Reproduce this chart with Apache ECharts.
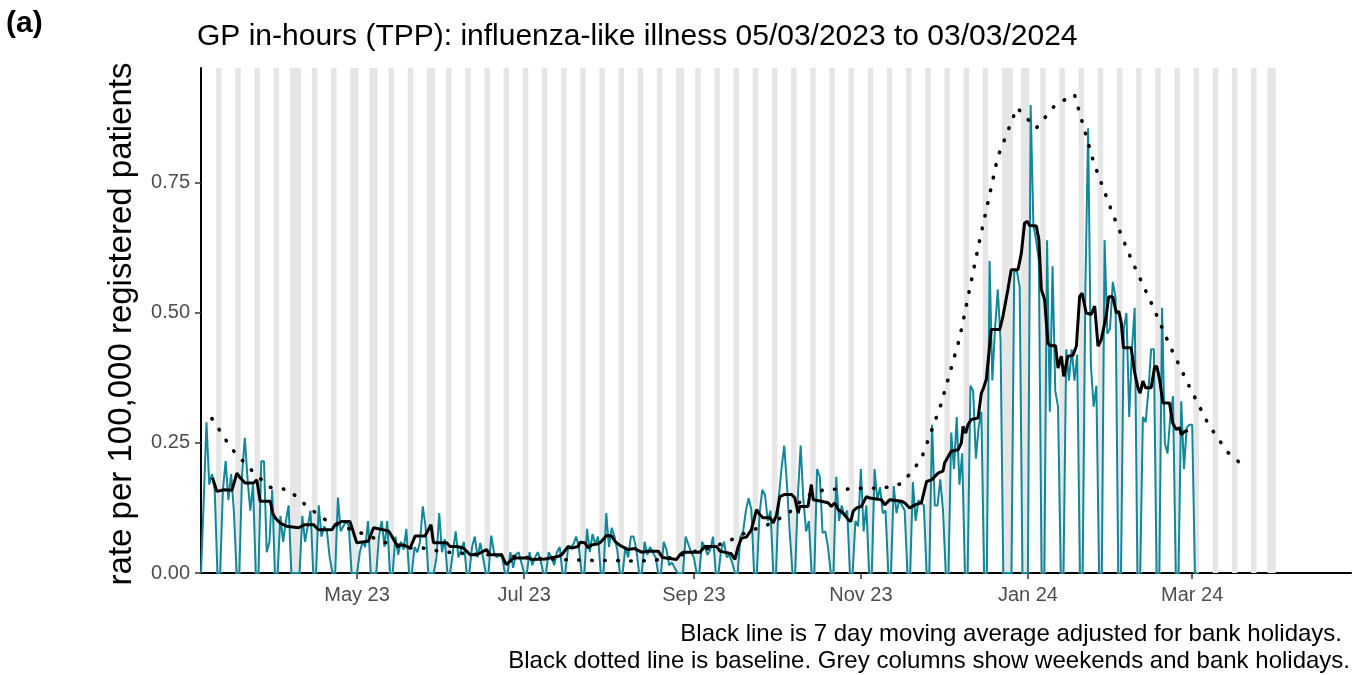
<!DOCTYPE html>
<html>
<head>
<meta charset="utf-8">
<script src="https://cdn.jsdelivr.net/npm/echarts@6/dist/echarts.min.js"></script>
<style>
  html, body { margin: 0; padding: 0; background: #fff; }
  #chart { width: 1363px; height: 675px; }
</style>
</head>
<body>
<div id="chart"></div>
<script>
// first day of the daily series (Sunday)
var startDate = '2023-03-05'

// daily rate, one row per week: Sun, Mon, Tue, Wed, Thu, Fri, Sat
var dailyRate = [
  0, 0.14, 0.29, 0.17, 0.19, 0.16, 0,
  0, 0.16, 0.215, 0.14, 0.19, 0.12, 0,
  0, 0.19, 0.26, 0.18, 0.12, 0.17, 0,
  0, 0.215, 0.215, 0.04, 0.06, 0.16, 0,
  0, 0.11, 0.06, 0.10, 0.13, 0, 0,
  0, 0, 0.11, 0.06, 0.09, 0.12, 0,
  0, 0.13, 0.07, 0.09, 0.08, 0.03, 0,
  0, 0.145, 0.08, 0.09, 0.10, 0.09, 0,
  0, 0, 0.04, 0.06, 0.05, 0.10, 0,
  0, 0, 0.07, 0.10, 0.05, 0.10, 0,
  0, 0.07, 0.035, 0.06, 0.045, 0.085, 0,
  0, 0.05, 0.04, 0.06, 0.128, 0.09, 0,
  0, 0, 0.03, 0.115, 0.04, 0.065, 0,
  0, 0.04, 0.08, 0.03, 0.045, 0.06, 0,
  0, 0.05, 0.07, 0.03, 0.058, 0.03, 0,
  0, 0.072, 0.04, 0.03, 0.035, 0.03, 0,
  0, 0.04, 0.01, 0.035, 0.04, 0.02, 0,
  0, 0.04, 0.015, 0.03, 0.04, 0.025, 0,
  0, 0.04, 0.03, 0.015, 0.04, 0.05, 0,
  0, 0.045, 0.05, 0.055, 0.07, 0.05, 0,
  0, 0.085, 0.04, 0.075, 0.055, 0.07, 0,
  0, 0.115, 0.05, 0.087, 0.07, 0.045, 0,
  0, 0.05, 0.03, 0.07, 0.07, 0.045, 0,
  0, 0.06, 0.035, 0.05, 0.04, 0.03, 0,
  0, 0.06, 0.045, 0.015, 0.02, 0.01, 0,
  0, 0, 0.07, 0.055, 0.04, 0.03, 0,
  0, 0.06, 0.05, 0.035, 0.045, 0.07, 0,
  0, 0.045, 0.06, 0.03, 0.035, 0.02, 0,
  0, 0.07, 0.08, 0.12, 0.144, 0.122, 0,
  0, 0.115, 0.16, 0.15, 0.10, 0.12, 0,
  0, 0.145, 0.20, 0.245, 0.17, 0.08, 0,
  0, 0.15, 0.245, 0.14, 0.08, 0.10, 0,
  0, 0.20, 0.185, 0.077, 0.08, 0.05, 0,
  0, 0.185, 0.10, 0.13, 0.11, 0.12, 0,
  0, 0.10, 0.09, 0.20, 0.08, 0.13, 0,
  0, 0.20, 0.14, 0.165, 0.115, 0.12, 0,
  0, 0.167, 0.115, 0.14, 0.13, 0.12, 0,
  0, 0.175, 0.10, 0.14, 0.135, 0.13, 0,
  0, 0.285, 0.13, 0.13, 0.18, 0.12, 0,
  0, 0.27, 0.20, 0.30, 0.17, 0.23, 0,
  0, 0.36, 0.35, 0.22, 0.28, 0.31, 0,
  0, 0.60, 0.37, 0.47, 0.545, 0.45, 0,
  0, 0, 0, 0.58, 0.58, 0.55, 0,
  0, 0, 0.90, 0.67, 0.64, 0.60, 0,
  0, 0.64, 0.31, 0.59, 0.35, 0.32, 0,
  0, 0.43, 0.37, 0.43, 0.37, 0.42, 0,
  0, 0.55, 0.855, 0.40, 0.32, 0.36, 0,
  0, 0.64, 0.46, 0.47, 0.56, 0.53, 0,
  0, 0.47, 0.50, 0.30, 0.43, 0.51, 0,
  0, 0.30, 0.29, 0.35, 0.43, 0.43, 0,
  0, 0.51, 0.25, 0.23, 0.30, 0.34, 0,
  0, 0.33, 0.20, 0.28, 0.285, 0.285, 0,
  0
]

// 7 day moving average (day offset from startDate, rate)
var maDays = [4.2, 5.8, 8.5, 11.3, 13.1, 14.3, 16.1, 19.2, 20.4, 21.6, 25.3, 26.2, 27.1, 28.9, 31.3, 35.6, 38, 41.1, 42.9, 47.8,
  49, 51.4, 54.4, 56.9, 61.1, 63, 68.4, 69, 71.5, 73.9, 76.4, 78.2, 81.8, 84, 84.9, 89.7, 91, 93.4, 95.8, 98.3,
  100.7, 104.3, 105.6, 109.8, 111.5, 113.5, 114.7, 119.5, 120.8, 125.6, 130.5, 131.7, 134.1, 135.4, 137.8, 138.4, 140.2, 141.4, 142.6, 145.1,
  146.3, 148.1, 150, 151.2, 153, 156, 158.4, 160.9, 163.3, 167, 168.5, 173.7, 174.9, 176.1, 182.2, 184, 188.3, 189.5, 193.7, 195,
  196.2, 197.4, 199.2, 201, 202.9, 204.1, 205.3, 207.8, 209, 210.2, 211.4, 213.2, 215.7, 216.9, 218.1, 218.7, 221.7, 222.9, 223.6, 226.6,
  229, 230.2, 231.5, 232.7, 234.5, 236.3, 237.3, 238.2, 239.4, 241.2, 243, 244.2, 248.5, 249.7, 251.6, 255.8, 257, 258.8, 260.7, 263.1,
  265, 266.8, 269.2, 271, 271.6, 274, 276.5, 277.7, 278.3, 279.3, 280.1, 281.3, 283.8, 285, 285.6, 286.8, 288.6, 291.7, 292.9, 294.7,
  295.9, 298.4, 299.6, 300.8, 301.8, 302.6, 305.1, 306, 306.9, 308.1, 309.3, 310.2, 312.1, 313, 314.2, 315.1, 316.6, 318.4, 319.7, 320.9,
  321.8, 323.3, 325.1, 326.4, 327.6, 328.8, 330.6, 331.5, 333, 334.3, 335.2, 336.1, 336.9, 339.7, 340.9, 342.2, 343, 344, 345, 347,
  348.3, 349.1, 350.1, 351.3, 353.7, 354.9, 356.2, 357.4, 358, 359.2, 360.4]
var maRate = [0.183, 0.157, 0.16, 0.159, 0.192, 0.183, 0.173, 0.173, 0.179, 0.138, 0.138, 0.115, 0.106, 0.096, 0.09, 0.087, 0.093, 0.093, 0.083, 0.083,
  0.093, 0.099, 0.099, 0.058, 0.061, 0.087, 0.081, 0.077, 0.054, 0.054, 0.048, 0.071, 0.071, 0.093, 0.058, 0.058, 0.051, 0.051, 0.048, 0.035,
  0.035, 0.045, 0.035, 0.035, 0.016, 0.026, 0.029, 0.029, 0.026, 0.027, 0.032, 0.035, 0.051, 0.048, 0.051, 0.059, 0.058, 0.048, 0.054, 0.056,
  0.061, 0.072, 0.071, 0.061, 0.053, 0.045, 0.047, 0.04, 0.042, 0.042, 0.03, 0.026, 0.035, 0.04, 0.04, 0.051, 0.051, 0.042, 0.037, 0.026,
  0.051, 0.067, 0.069, 0.083, 0.122, 0.112, 0.106, 0.106, 0.096, 0.112, 0.147, 0.151, 0.151, 0.144, 0.115, 0.128, 0.128, 0.17, 0.141, 0.138,
  0.135, 0.128, 0.135, 0.122, 0.115, 0.103, 0.099, 0.119, 0.125, 0.128, 0.147, 0.144, 0.141, 0.131, 0.141, 0.138, 0.135, 0.125, 0.131, 0.135,
  0.176, 0.179, 0.192, 0.196, 0.212, 0.234, 0.237, 0.25, 0.282, 0.269, 0.285, 0.295, 0.298, 0.346, 0.353, 0.372, 0.468, 0.468, 0.494, 0.545,
  0.583, 0.583, 0.615, 0.673, 0.676, 0.668, 0.667, 0.641, 0.545, 0.526, 0.442, 0.437, 0.437, 0.394, 0.417, 0.378, 0.417, 0.418, 0.436, 0.532,
  0.538, 0.5, 0.497, 0.513, 0.436, 0.449, 0.494, 0.531, 0.531, 0.5, 0.503, 0.481, 0.433, 0.433, 0.388, 0.356, 0.346, 0.369, 0.356, 0.356,
  0.397, 0.397, 0.372, 0.327, 0.327, 0.288, 0.276, 0.279, 0.266, 0.272, 0.274]

// weekly baseline, first point on baselineStart then every 7 days
var baselineStart = '2023-03-09'
var baselineRate = [0.297, 0.24, 0.20, 0.165, 0.16, 0.127, 0.10, 0.087, 0.074, 0.059,
  0.048, 0.048, 0.041, 0.038, 0.035, 0.035, 0.031, 0.028, 0.026, 0.025,
  0.024, 0.024, 0.023, 0.024, 0.03, 0.04, 0.048, 0.062, 0.08, 0.093,
  0.112, 0.148, 0.161, 0.161, 0.163, 0.163, 0.172, 0.218, 0.32, 0.45,
  0.63, 0.80, 0.895, 0.855, 0.90, 0.92, 0.79, 0.69, 0.60, 0.52,
  0.435, 0.358, 0.285, 0.232, 0.20]

var bankHolidays = ['2023-04-07', '2023-04-10', '2023-05-01', '2023-05-08', '2023-05-29',
  '2023-08-28', '2023-12-25', '2023-12-26', '2024-01-01', '2024-03-29']
var greyEnd = '2024-03-31'
var axisEnd = '2024-04-28'

var tickDates = ['2023-05-01', '2023-07-01', '2023-09-01', '2023-11-01', '2024-01-01', '2024-03-01']
var tickLabels = ['May 23', 'Jul 23', 'Sep 23', 'Nov 23', 'Jan 24', 'Mar 24']
var yTicks = [0, 0.25, 0.5, 0.75]

function dayIndex (s) {
  var a = s.split('-').map(Number)
  var b = startDate.split('-').map(Number)
  return Math.round((Date.UTC(a[0], a[1] - 1, a[2]) - Date.UTC(b[0], b[1] - 1, b[2])) / 86400000)
}

var tickDays = tickDates.map(dayIndex)
var holidayDays = bankHolidays.map(dayIndex)

// grey columns: weekends and bank holidays, merged into runs
var greyRuns = []
var lastDay = dayIndex(greyEnd)
for (var d = 1; d <= lastDay; d++) {
  var dow = d % 7 // 0 = Sunday, 6 = Saturday
  if (dow === 0 || dow === 6 || holidayDays.indexOf(d) >= 0) {
    var run = greyRuns[greyRuns.length - 1]
    if (run && run[1] === d - 1) run[1] = d
    else greyRuns.push([d, d])
  }
}
var greyAreas = greyRuns.map(function (r) {
  return [{ xAxis: r[0] - 0.5 }, { xAxis: r[1] + 0.5 }]
})

var dailyData = dailyRate.map(function (v, i) { return [i, v] })
var maData = maDays.map(function (d, i) { return [d, maRate[i]] })
var b0 = dayIndex(baselineStart)
var baselineData = baselineRate.map(function (v, k) { return [b0 + 7 * k, v] })

var font = '"Liberation Sans", Arial, Helvetica, sans-serif'

var option = {
  animation: false,
  grid: { left: 201, right: 12, top: 68, bottom: 102 },
  xAxis: {
    type: 'value',
    min: 0,
    max: dayIndex(axisEnd),
    splitLine: { show: false },
    axisLine: { show: true, lineStyle: { color: '#000', width: 2 } },
    axisTick: { show: true, customValues: tickDays, length: 6, lineStyle: { color: '#333', width: 1.5 } },
    axisLabel: {
      customValues: tickDays,
      formatter: function (v) {
        var i = tickDays.indexOf(Math.round(v))
        return i >= 0 ? tickLabels[i] : ''
      },
      color: '#4d4d4d',
      fontSize: 20,
      fontFamily: font,
      margin: 12
    }
  },
  yAxis: {
    type: 'value',
    min: 0,
    max: 0.971,
    splitLine: { show: false },
    axisLine: { show: true, lineStyle: { color: '#000', width: 2 } },
    axisTick: { show: true, customValues: yTicks, length: 6, lineStyle: { color: '#333', width: 1.5 } },
    axisLabel: {
      customValues: yTicks,
      formatter: function (v) { return v.toFixed(2) },
      color: '#4d4d4d',
      fontSize: 20,
      fontFamily: font,
      margin: 11
    }
  },
  series: [
    {
      // carrier for the grey weekend / holiday columns
      type: 'line',
      data: [],
      silent: true,
      markArea: {
        silent: true,
        itemStyle: { color: '#e6e6e6' },
        data: greyAreas
      }
    },
    {
      name: 'daily',
      type: 'line',
      data: dailyData,
      showSymbol: false,
      lineStyle: { color: '#11879a', width: 2 },
      z: 3
    },
    {
      name: 'baseline',
      type: 'line',
      data: baselineData,
      showSymbol: false,
      lineStyle: { color: '#000', width: 3.6, type: [0.5, 12.5], cap: 'round' },
      z: 4
    },
    {
      name: 'moving average',
      type: 'line',
      data: maData,
      showSymbol: false,
      lineStyle: { color: '#000', width: 3 },
      z: 5
    }
  ],
  graphic: [
    { type: 'text', x: 6, y: 24, style: { text: '(a)', font: 'bold 30px ' + font, fill: '#000', textVerticalAlign: 'middle' } },
    { type: 'text', x: 197, y: 37, style: { text: 'GP in-hours (TPP): influenza-like illness 05/03/2023 to 03/03/2024', font: '30px ' + font, fill: '#000', textVerticalAlign: 'middle' } },
    { type: 'text', x: 122, y: 324, rotation: Math.PI / 2, style: { text: 'rate per 100,000 registered patients', font: '33px ' + font, fill: '#000', textAlign: 'center', textVerticalAlign: 'middle' } },
    { type: 'text', x: 1342, y: 634, style: { text: 'Black line is 7 day moving average adjusted for bank holidays.', font: '24px ' + font, fill: '#000', textAlign: 'right', textVerticalAlign: 'middle' } },
    { type: 'text', x: 1350, y: 661, style: { text: 'Black dotted line is baseline. Grey columns show weekends and bank holidays.', font: '24px ' + font, fill: '#000', textAlign: 'right', textVerticalAlign: 'middle' } }
  ]
}

var chart = echarts.init(document.getElementById('chart'))
chart.setOption(option)
</script>
</body>
</html>
